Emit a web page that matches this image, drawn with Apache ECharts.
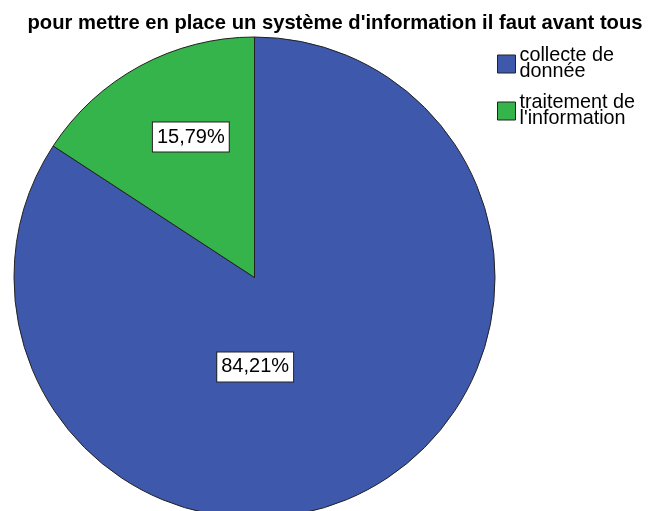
<!DOCTYPE html>
<html>
<head>
<meta charset="utf-8">
<script src="https://cdn.jsdelivr.net/npm/echarts@6/dist/echarts.min.js"></script>
<style>
  html, body { margin: 0; padding: 0; background: #fff; }
  #chart { width: 656px; height: 511px; }
</style>
</head>
<body>
<div id="chart"></div>
<script>
let categories = ['collecte de donnée', 'traitement de l\'information'];
let legendLabels = ['collecte de\ndonnée', 'traitement de\nl\'information'];
let percents = [84.21, 15.79];
let colors = ['#3e58ac', '#34b44a'];
// shift of each label away from the default inside spot
let labelShift = [[-58, -19], [-5, -32]];

let pieData = [];
for (let i = 0; i < categories.length; i++) {
    pieData.push({
        name: categories[i],
        value: percents[i],
        itemStyle: { color: colors[i] }
    });
}

let option = {
    backgroundColor: '#fff',
    animation: false,
    title: {
        text: 'pour mettre en place un système d\'information il faut avant tous',
        left: 335,
        textAlign: 'center',
        top: 13,
        padding: 0,
        textStyle: {
            fontFamily: 'Liberation Sans',
            fontWeight: 'bold',
            fontSize: 20.2,
            color: '#000'
        }
    },
    legend: {
        orient: 'vertical',
        left: 497,
        top: 46,
        padding: 0,
        itemWidth: 18,
        itemHeight: 18,
        itemGap: 11,
        icon: 'rect',
        itemStyle: { borderColor: '#222', borderWidth: 1 },
        formatter: function (name) {
            return legendLabels[categories.indexOf(name)];
        },
        textStyle: {
            fontFamily: 'Liberation Sans',
            fontSize: 19.8,
            lineHeight: 16,
            color: '#000',
            padding: [0, 0, 0, -1]
        },
        data: categories
    },
    series: [{
        type: 'pie',
        center: [254.5, 277.5],
        radius: 240.5,
        startAngle: 90,
        clockwise: true,
        data: pieData,
        itemStyle: { borderColor: '#222', borderWidth: 1 },
        emphasis: { disabled: true },
        label: {
            position: 'inside',
            formatter: function (p) {
                return p.value.toFixed(2).replace('.', ',') + '%';
            },
            fontFamily: 'Liberation Sans',
            fontSize: 20,
            color: '#000',
            backgroundColor: '#fff',
            borderColor: '#222',
            borderWidth: 1,
            padding: [5, 4, 4, 4]
        },
        labelLayout: function (p) {
            return { dx: labelShift[p.dataIndex][0], dy: labelShift[p.dataIndex][1] };
        },
        labelLine: { show: false }
    }]
};

let myChart = echarts.init(document.getElementById('chart'));
myChart.setOption(option);
</script>
</body>
</html>
